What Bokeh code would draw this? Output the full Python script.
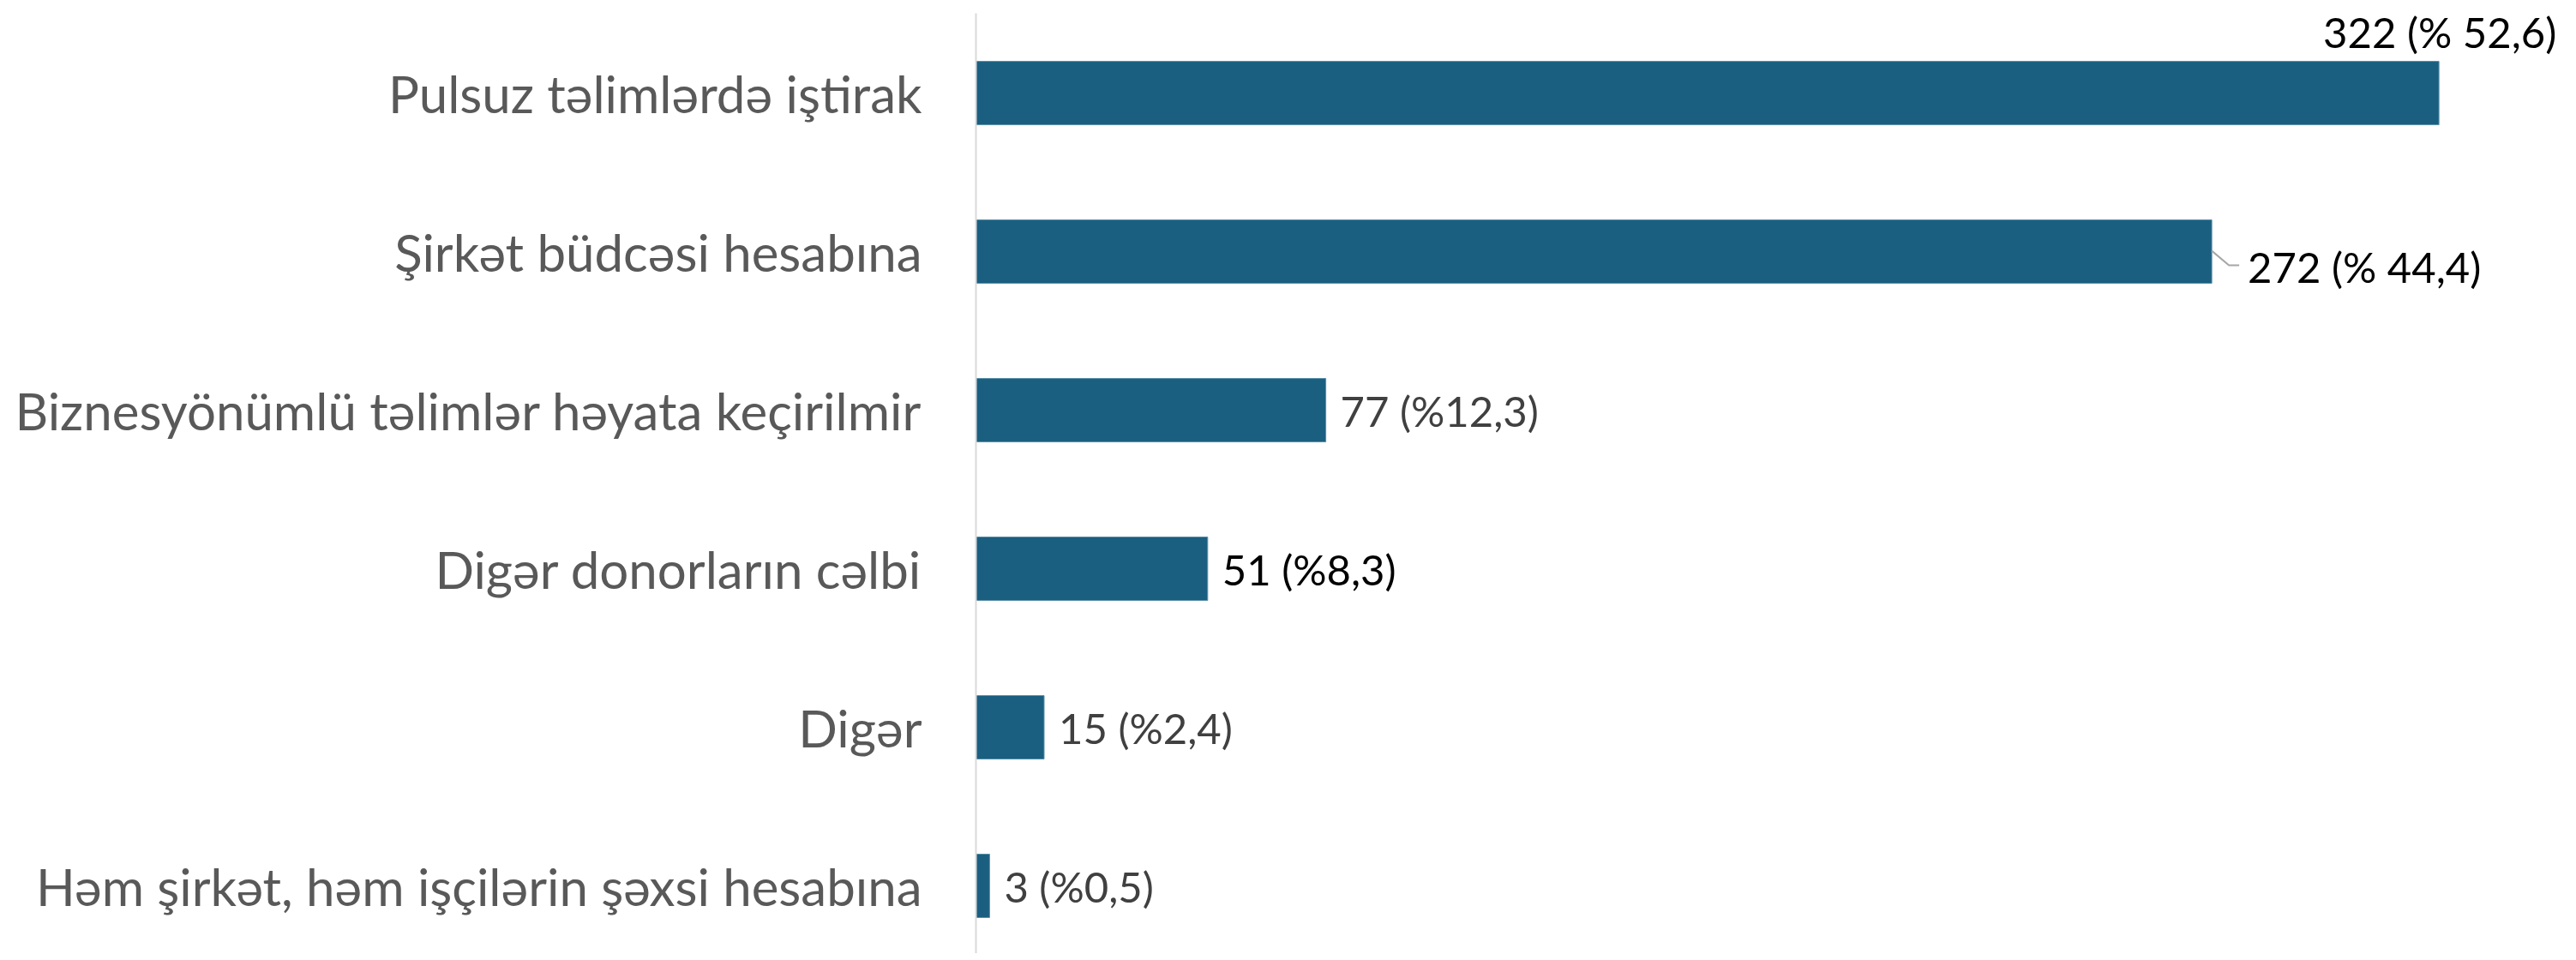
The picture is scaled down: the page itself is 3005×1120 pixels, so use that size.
from bokeh.plotting import figure
from bokeh.models import Range1d, FixedTicker, ColumnDataSource
from bokeh.core.properties import value
from bokeh.embed import file_html
from bokeh.resources import INLINE

categories = [
    "Pulsuz təlimlərdə iştirak",
    "Şirkət büdcəsi hesabına",
    "Biznesyönümlü təlimlər həyata keçirilmir",
    "Digər donorların cəlbi",
    "Digər",
    "Həm şirkət, həm işçilərin şəxsi hesabına",
]
counts = [322, 272, 77, 51, 15, 3]
labels = ["322 (% 52,6)", "272 (% 44,4)", "77 (%12,3)", "51 (%8,3)", "15 (%2,4)", "3 (%0,5)"]
label_colors = ["#000000", "#000000", "#404040", "#000000", "#404040", "#404040"]

BAR = "#1a5f80"
FONT = "Lato"

pos = list(range(len(categories)))

p = figure(width=2997, height=1112, output_backend="svg", toolbar_location=None,
           x_range=Range1d(0, 350.75), y_range=Range1d(5.427, -0.503),
           min_border_left=1138, min_border_right=0, min_border_top=15, min_border_bottom=0)
p.outline_line_color = None
p.grid.visible = False
p.xaxis.visible = False
p.background_fill_color = "white"

src = ColumnDataSource(dict(y=pos, right=counts, lab=labels, col=label_colors))
p.hbar(y="y", left=0, right="right", height=0.4, source=src,
       fill_color=BAR, line_color="#5a8fa8", line_width=1)

# data labels
xo = [0] * len(counts)
yo = [0] * len(counts)
xo[0] = -135
yo[0] = -72
xo[1] = 42
yo[1] = 17
for i in range(2, len(counts)):
    xo[i] = 17
src.data["xo"] = xo
src.data["yo"] = yo
p.text(x="right", y="y", text="lab", source=src, x_offset="xo", y_offset="yo",
       text_font=value(FONT), text_font_size="49px", text_color="col",
       text_baseline="middle", text_align="left")

# leader line for the second label
c = counts[1]
p.line(x=[c, c + 20 / 5.3, c + 32 / 5.3], y=[1 - 0.005, 1 + 16 / 185, 1 + 16 / 185],
       line_color="#a6a6a6", line_width=2)

yax = p.yaxis[0]
yax.ticker = FixedTicker(ticks=pos)
yax.major_label_overrides = {i: c for i, c in enumerate(categories)}
yax.major_tick_line_color = None
yax.minor_tick_line_color = None
yax.major_tick_out = 0
yax.major_tick_in = 0
yax.major_label_standoff = 63
yax.major_label_text_font = FONT
yax.major_label_text_font_size = "60px"
yax.major_label_text_color = "#595959"
yax.axis_line_color = "#d9d9d9"
yax.axis_line_width = 2

open("out.html", "w").write(file_html(p, INLINE))
